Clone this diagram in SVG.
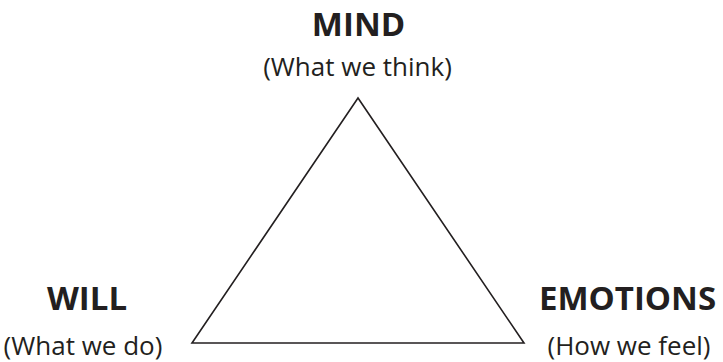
<svg xmlns="http://www.w3.org/2000/svg" width="723" height="362" viewBox="0 0 723 362">
<style>
.t{font-family:"Open Sans","Noto Sans","DejaVu Sans",sans-serif;fill:#231f20;text-anchor:middle}
.h{font-weight:700;font-size:33px}
.s{font-size:26px}
.tri{fill:none;stroke:#231f20;stroke-width:1.6;stroke-linejoin:miter}
</style>
<rect width="723" height="362" fill="#ffffff"/>
<g id="connectors">
<polygon class="tri" points="358,98 192,343 524,343"/>
</g>
<g id="mind">
<text class="t h" x="358.5" y="36">MIND</text>
<text class="t s" x="357.5" y="76">(What we think)</text>
</g>
<g id="will">
<text class="t h" x="87" y="310">WILL</text>
<text class="t s" x="83" y="355">(What we do)</text>
</g>
<g id="emotions">
<text class="t h" x="627.5" y="310">EMOTIONS</text>
<text class="t s" x="629" y="355">(How we feel)</text>
</g>
</svg>
